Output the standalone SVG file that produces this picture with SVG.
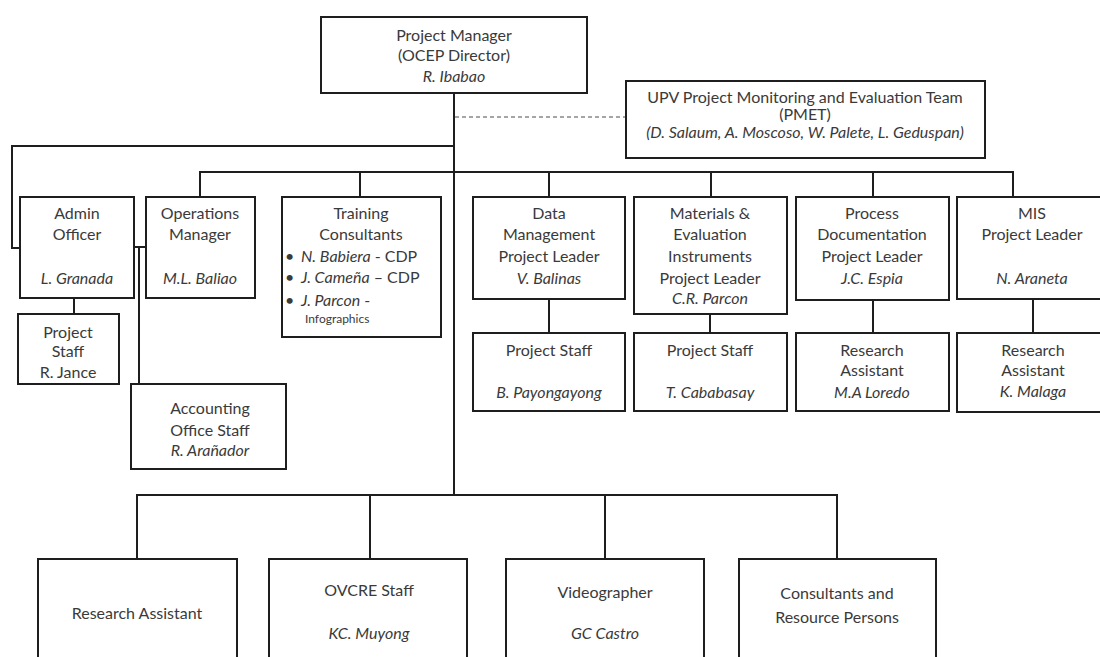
<svg xmlns="http://www.w3.org/2000/svg" width="1100" height="657" viewBox="0 0 1100 657">
<style>
.box{fill:#fff;stroke:#1e1e1e;stroke-width:2}
.ln{fill:none;stroke:#1e1e1e;stroke-width:2}
.dash{fill:none;stroke:#888;stroke-width:1.5;stroke-dasharray:4 3}
text{font-family:Lato,"Noto Sans","Liberation Sans",sans-serif;font-size:16px;fill:#3a3a3a;text-anchor:middle}
.i{font-style:italic}
.l{text-anchor:start}
.s{font-size:12px}
</style>
<rect width="1100" height="657" fill="#fff"/>
<g id="connectors">
<line class="ln" x1="454" y1="93" x2="454" y2="495"/>
<line class="dash" x1="455" y1="117" x2="626" y2="117"/>
<polyline class="ln" points="454,146 12,146 12,248 20,248"/>
<line class="ln" x1="199" y1="172" x2="1014" y2="172"/>
<line class="ln" x1="200" y1="172" x2="200" y2="197"/>
<line class="ln" x1="360" y1="172" x2="360" y2="197"/>
<line class="ln" x1="549" y1="172" x2="549" y2="197"/>
<line class="ln" x1="711" y1="172" x2="711" y2="197"/>
<line class="ln" x1="873" y1="172" x2="873" y2="197"/>
<line class="ln" x1="1013" y1="171" x2="1013" y2="197"/>
<line class="ln" x1="134" y1="247" x2="146" y2="247"/>
<line class="ln" x1="139" y1="247" x2="139" y2="384"/>
<line class="ln" x1="74" y1="298" x2="74" y2="314"/>
<line class="ln" x1="549" y1="299" x2="549" y2="333"/>
<line class="ln" x1="710" y1="314" x2="710" y2="333"/>
<line class="ln" x1="873" y1="300" x2="873" y2="333"/>
<line class="ln" x1="1033" y1="299" x2="1033" y2="333"/>
<line class="ln" x1="136" y1="495" x2="838" y2="495"/>
<line class="ln" x1="137" y1="495" x2="137" y2="559"/>
<line class="ln" x1="370" y1="495" x2="370" y2="559"/>
<line class="ln" x1="605" y1="495" x2="605" y2="559"/>
<line class="ln" x1="837" y1="495" x2="837" y2="559"/>
</g>
<g id="pm">
<rect class="box" x="321" y="17" width="266" height="76"/>
<text x="454" y="41">Project Manager</text>
<text x="454" y="61">(OCEP Director)</text>
<text x="454" y="82" class="i">R. Ibabao</text>
</g>
<g id="pmet">
<rect class="box" x="626" y="81" width="359" height="77"/>
<text x="805" y="103">UPV Project Monitoring and Evaluation Team</text>
<text x="805" y="120">(PMET)</text>
<text x="805" y="138" class="i">(D. Salaum, A. Moscoso, W. Palete, L. Geduspan)</text>
</g>
<g id="admin">
<rect class="box" x="20" y="197" width="114" height="101"/>
<text x="77" y="219">Admin</text>
<text x="77" y="240">Officer</text>
<text x="77" y="284" class="i">L. Granada</text>
</g>
<g id="ops">
<rect class="box" x="146" y="197" width="109" height="101"/>
<text x="200" y="219">Operations</text>
<text x="200" y="240">Manager</text>
<text x="200" y="284" class="i">M.L. Baliao</text>
</g>
<g id="training">
<rect class="box" x="282" y="197" width="159" height="140"/>
<text x="361" y="219">Training</text>
<text x="361" y="240">Consultants</text>
<text x="285" y="262" class="l">•</text>
<text x="301" y="262" class="l"><tspan class="i">N. Babiera</tspan> - CDP</text>
<text x="285" y="283" class="l">•</text>
<text x="301" y="283" class="l"><tspan class="i">J. Cameña</tspan> – CDP</text>
<text x="285" y="306" class="l">•</text>
<text x="301" y="306" class="l"><tspan class="i">J. Parcon</tspan> -</text>
<text x="305" y="323" class="l s">Infographics</text>
</g>
<g id="data">
<rect class="box" x="473" y="197" width="152" height="102"/>
<text x="549" y="219">Data</text>
<text x="549" y="240">Management</text>
<text x="549" y="262">Project Leader</text>
<text x="549" y="284" class="i">V. Balinas</text>
</g>
<g id="materials">
<rect class="box" x="634" y="197" width="153" height="117"/>
<text x="710" y="219">Materials &amp;</text>
<text x="710" y="240">Evaluation</text>
<text x="710" y="262">Instruments</text>
<text x="710" y="284">Project Leader</text>
<text x="710" y="304" class="i">C.R. Parcon</text>
</g>
<g id="process">
<rect class="box" x="796" y="197" width="153" height="103"/>
<text x="872" y="219">Process</text>
<text x="872" y="240">Documentation</text>
<text x="872" y="262">Project Leader</text>
<text x="872" y="284" class="i">J.C. Espia</text>
</g>
<g id="mis">
<rect class="box" x="957" y="197" width="155" height="102"/>
<text x="1032" y="219">MIS</text>
<text x="1032" y="240">Project Leader</text>
<text x="1032" y="284" class="i">N. Araneta</text>
</g>
<g id="admin-staff">
<rect class="box" x="18" y="314" width="101" height="70"/>
<text x="68" y="338">Project</text>
<text x="68" y="357">Staff</text>
<text x="68" y="378">R. Jance</text>
</g>
<g id="accounting">
<rect class="box" x="131" y="384" width="155" height="85"/>
<text x="210" y="414">Accounting</text>
<text x="210" y="436">Office Staff</text>
<text x="210" y="456" class="i">R. Arañador</text>
</g>
<g id="data-staff">
<rect class="box" x="473" y="333" width="152" height="78"/>
<text x="549" y="356">Project Staff</text>
<text x="549" y="398" class="i">B. Payongayong</text>
</g>
<g id="materials-staff">
<rect class="box" x="634" y="333" width="153" height="78"/>
<text x="710" y="356">Project Staff</text>
<text x="710" y="398" class="i">T. Cababasay</text>
</g>
<g id="process-ra">
<rect class="box" x="796" y="333" width="153" height="78"/>
<text x="872" y="356">Research</text>
<text x="872" y="376">Assistant</text>
<text x="872" y="398" class="i">M.A Loredo</text>
</g>
<g id="mis-ra">
<rect class="box" x="957" y="333" width="155" height="79"/>
<text x="1033" y="356">Research</text>
<text x="1033" y="376">Assistant</text>
<text x="1033" y="397" class="i">K. Malaga</text>
</g>
<g id="research-assistant">
<rect class="box" x="38" y="559" width="199" height="120"/>
<text x="137" y="619">Research Assistant</text>
</g>
<g id="ovcre">
<rect class="box" x="269" y="559" width="198" height="120"/>
<text x="369" y="596">OVCRE Staff</text>
<text x="369" y="639" class="i">KC. Muyong</text>
</g>
<g id="videographer">
<rect class="box" x="506" y="559" width="198" height="120"/>
<text x="605" y="598">Videographer</text>
<text x="605" y="639" class="i">GC Castro</text>
</g>
<g id="consultants">
<rect class="box" x="739" y="559" width="197" height="120"/>
<text x="837" y="599">Consultants and</text>
<text x="837" y="623">Resource Persons</text>
</g>
</svg>
